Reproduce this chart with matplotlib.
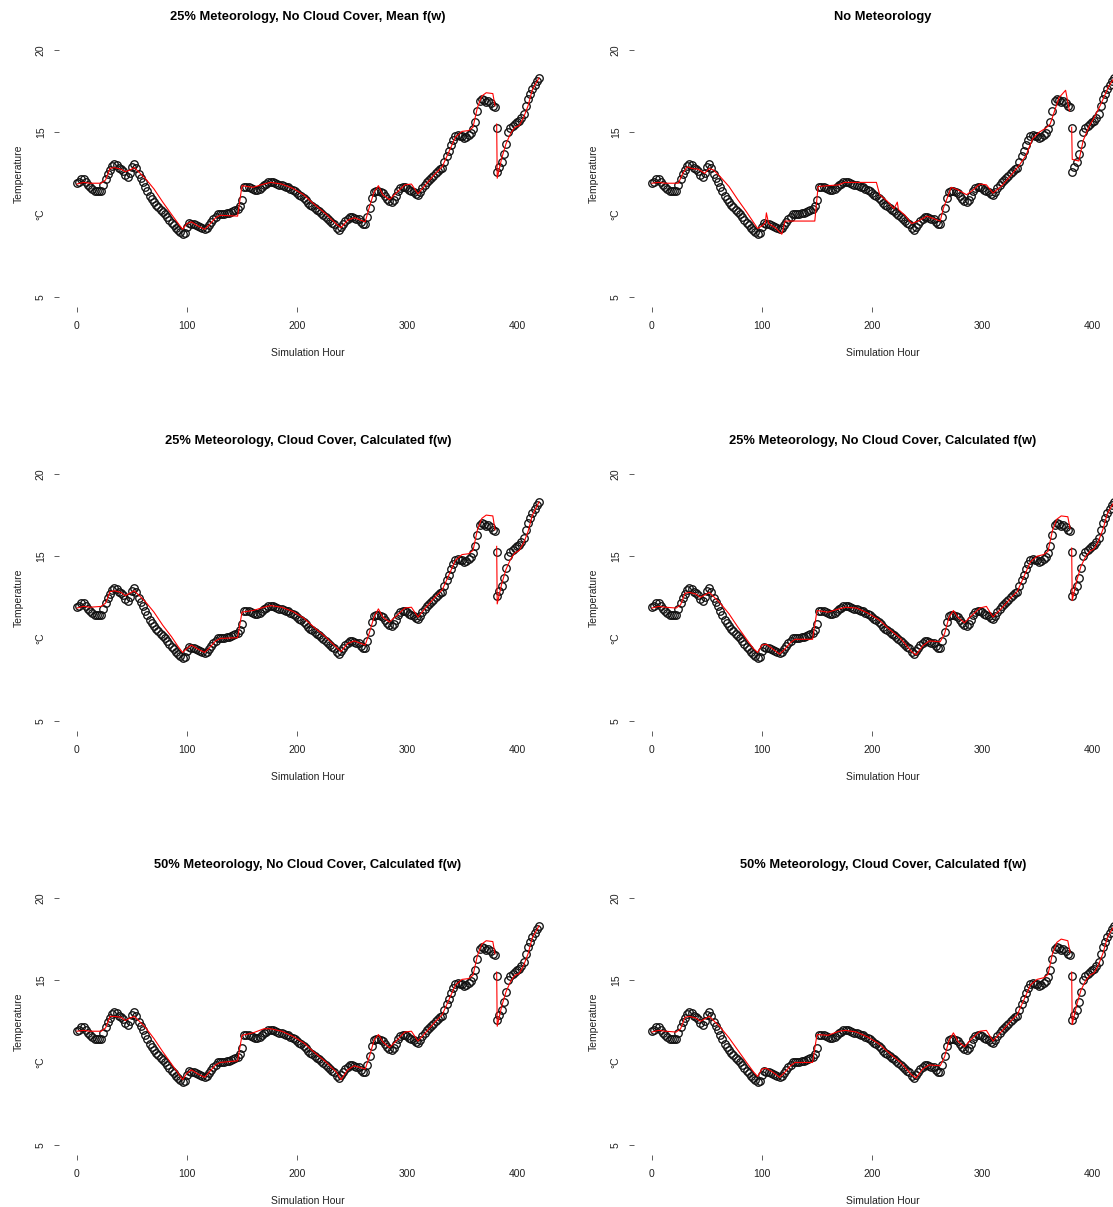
import matplotlib
matplotlib.use('Agg')
import matplotlib.pyplot as plt
import numpy as np

plt.rcParams['font.family'] = ['Liberation Sans', 'DejaVu Sans']

# ── observed temperature, every 2 simulation hours (0..420) ──────────────────
OBS_H = np.arange(0, 421, 2)
OBS_T = [
    11.9, 12.0, 12.15, 12.15, 11.95, 11.8, 11.7, 11.55, 11.45, 11.4,
    11.4, 11.45, 11.8, 12.15, 12.45, 12.7, 12.95, 13.05, 13.0, 12.85,
    12.75, 12.65, 12.4, 12.3, 12.55, 12.9, 13.05, 12.8, 12.45, 12.2,
    11.95, 11.7, 11.4, 11.15, 10.95, 10.75, 10.6, 10.45, 10.3, 10.15,
    10.0, 9.85, 9.65, 9.5, 9.35, 9.2, 9.05, 8.95, 8.82, 8.85,
    9.25, 9.5, 9.45, 9.4, 9.35, 9.3, 9.25, 9.15, 9.1, 9.15,
    9.35, 9.55, 9.7, 9.85, 10.0, 10.05, 10.05, 10.05, 10.1, 10.1,
    10.15, 10.2, 10.3, 10.35, 10.5, 10.9, 11.65, 11.7, 11.65, 11.6,
    11.55, 11.5, 11.5, 11.55, 11.7, 11.8, 11.85, 11.95, 12.0, 11.95,
    11.9, 11.85, 11.8, 11.8, 11.75, 11.7, 11.65, 11.55, 11.5, 11.4,
    11.3, 11.2, 11.1, 11.0, 10.85, 10.7, 10.6, 10.5, 10.4, 10.3,
    10.2, 10.1, 9.95, 9.85, 9.75, 9.6, 9.5, 9.4, 9.2, 9.05,
    9.25, 9.45, 9.6, 9.75, 9.85, 9.85, 9.8, 9.75, 9.7, 9.55,
    9.45, 9.4, 9.85, 10.4, 11.0, 11.35, 11.45, 11.4, 11.35, 11.3,
    11.1, 10.95, 10.8, 10.75, 10.9, 11.15, 11.4, 11.6, 11.7, 11.7,
    11.6, 11.5, 11.45, 11.35, 11.25, 11.2, 11.35, 11.6, 11.8, 11.95,
    12.1, 12.2, 12.35, 12.5, 12.65, 12.75, 12.85, 13.2, 13.55, 13.85,
    14.2, 14.5, 14.75, 14.85, 14.8, 14.75, 14.65, 14.7, 14.85, 14.95,
    15.2, 15.6, 16.3, 16.9, 17.0, 16.95, 16.85, 16.9, 16.75, 16.6,
    16.55, 12.6, 12.9, 13.2, 13.7, 14.3, 15.0, 15.25, 15.35, 15.5,
    15.6, 15.7, 15.85, 16.1, 16.6, 17.0, 17.3, 17.6, 17.9, 18.1,
    18.3,
]
OBS_EXTRA_H = [381.5]
OBS_EXTRA_T = [15.25]

# ── model runs (red lines) ────────────────────────────────────────────────────
nan = np.nan
MODEL_H = [0, 6, 12, 22, 26, 30, 34, 40, 44, 48,
           52, 56, 62, 70, 78, 86, 92, 96, 100, 104,
           110, 116, 120, 126, 130, 146, 150, 160, 170, 176,
           186, 196, 206, 216, 226, 236, 240, 246, 252, 262,
           266, 270, 274, 278, 284, 290, 298, 304, 310, 318,
           326, 332, 338, 344, 350, 356, 360, 364, 368, 372,
           378, 380, 381, 381.5, 382, 386, 390, 394, 398, 402,
           406, 410, 414, 420]

T_25_NOCC_MEAN = [11.85, 11.95, 11.9, 11.9, 12.1, 12.8, 12.85, 12.75, 12.6, 12.7,
                  12.85, 12.6, 12.2, 11.55, 10.75, 10.0, 9.45, 9.1, 9.45, 9.55,
                  9.3, 9.1, 9.35, 9.8, 9.95, 9.9, 11.75, 11.65, 11.85, 11.95,
                  11.85, 11.6, 11.2, 10.6, 10.05, 9.4, 9.2, 9.65, 9.8, 9.55,
                  10.5, 11.35, 11.75, 11.2, 10.9, 11.3, 11.8, 11.85, 11.25, 11.9,
                  12.5, 12.9, 13.8, 14.7, 15.05, 15.1, 15.3, 16.5, 17.2, 17.4,
                  17.35, 16.6, nan, 15.5, 12.2, 13.4, 14.3, 14.9, 15.3, 15.4,
                  15.9, 16.6, 17.6, 18.3]

T_25_CC_CALC = [11.85, 11.95, 11.9, 11.95, 12.15, 12.85, 12.9, 12.8, 12.6, 12.75,
                12.9, 12.65, 12.25, 11.6, 10.8, 10.1, 9.5, 9.15, 9.4, 9.6,
                9.35, 9.15, 9.4, 9.85, 10.0, 10.05, 11.6, 11.7, 11.9, 12.0,
                11.9, 11.65, 11.25, 10.65, 10.1, 9.45, 9.2, 9.7, 9.85, 9.6,
                10.4, 11.3, 11.8, 11.3, 11.0, 11.35, 11.85, 11.9, 11.3, 11.95,
                12.55, 12.95, 13.85, 14.75, 15.1, 15.15, 15.35, 16.6, 17.3, 17.5,
                17.45, 16.6, nan, 15.6, 12.1, 13.3, 14.2, 14.8, 15.2, 15.35,
                15.8, 16.5, 17.5, 18.3]

T_25_NOCC_CALC = [11.85, 11.95, 11.9, 11.85, 12.05, 12.75, 12.8, 12.7, 12.5, 12.65,
                  12.8, 12.55, 12.15, 11.5, 10.7, 9.95, 9.4, 9.15, 9.6, 9.65,
                  9.35, 9.05, 9.3, 9.75, 9.95, 9.95, 11.7, 11.6, 11.8, 11.9,
                  11.85, 11.55, 11.15, 10.55, 10.0, 9.2, 9.0, 9.55, 9.85, 9.8,
                  10.3, 11.3, 11.7, 11.3, 10.95, 11.35, 11.85, 11.95, 11.3, 11.85,
                  12.45, 12.85, 13.75, 14.65, 15.0, 15.1, 15.3, 16.55, 17.25, 17.45,
                  17.4, 16.7, nan, 15.5, 12.3, 13.5, 14.4, 14.95, 15.3, 15.45,
                  15.95, 16.65, 17.6, 18.3]

T_50_NOCC_CALC = [11.9, 11.95, 11.9, 11.9, 12.1, 12.8, 12.8, 12.75, 12.55, 12.7,
                  12.8, 12.55, 12.15, 11.45, 10.65, 9.9, 9.35, 8.95, 9.35, 9.55,
                  9.3, 9.1, 9.4, 9.85, 10.0, 10.1, 11.65, 11.8, 12.05, 12.05,
                  11.9, 11.6, 11.2, 10.6, 10.05, 9.4, 8.95, 9.55, 9.8, 9.6,
                  10.4, 11.35, 11.7, 11.25, 10.9, 11.3, 11.85, 11.9, 11.3, 11.9,
                  12.5, 12.9, 13.8, 14.7, 15.05, 15.1, 15.3, 16.5, 17.2, 17.4,
                  17.35, 16.6, nan, 15.5, 12.2, 13.4, 14.3, 14.9, 15.3, 15.4,
                  15.9, 16.6, 17.6, 18.3]

T_50_CC_CALC = [11.85, 11.95, 11.9, 11.85, 12.05, 12.75, 12.8, 12.7, 12.5, 12.65,
                12.8, 12.55, 12.15, 11.5, 10.75, 10.0, 9.45, 9.15, 9.6, 9.65,
                9.4, 9.1, 9.35, 9.8, 10.0, 10.0, 11.7, 11.65, 11.9, 11.95,
                11.85, 11.55, 11.15, 10.55, 10.0, 9.25, 9.05, 9.6, 9.85, 9.8,
                10.35, 11.35, 11.8, 11.3, 10.95, 11.4, 11.9, 11.95, 11.3, 11.9,
                12.5, 12.9, 13.8, 14.7, 15.05, 15.15, 15.35, 16.6, 17.3, 17.5,
                17.4, 16.7, nan, 15.5, 12.3, 13.5, 14.4, 14.95, 15.3, 15.45,
                15.95, 16.65, 17.6, 18.3]

NOMET_H = [0, 6, 12, 24, 28, 32, 36, 42, 48, 52,
           56, 62, 70, 78, 86, 92, 96, 100, 103, 104,
           106, 112, 118, 121, 148, 151, 160, 170, 175, 204,
           207, 214, 220, 223, 224, 230, 236, 242, 250, 262,
           265, 272, 278, 286, 292, 298, 304, 310, 318, 326,
           334, 340, 346, 352, 358, 362, 366, 370, 376, 379.5,
           380.5, 381.5, 382, 388, 392, 397, 402, 408, 414.5, 420]
NOMET_T = [11.9, 11.95, 11.9, 11.9, 12.5, 12.9, 12.8, 12.75, 12.5, 12.8,
           12.7, 12.3, 11.7, 10.9, 10.15, 9.55, 9.15, 9.3, 9.5, 10.1,
           9.45, 9.2, 8.8, 9.6, 9.6, 11.7, 11.75, 11.8, 11.95, 11.95,
           11.2, 10.8, 10.35, 10.75, 10.3, 9.95, 9.45, 9.6, 9.9, 9.6,
           10.4, 11.65, 11.5, 11.2, 11.5, 11.85, 11.8, 11.3, 11.75, 12.35,
           13.0, 13.6, 14.6, 15.0, 15.25, 15.5, 16.3, 17.1, 17.55, 16.3,
           nan, 15.3, 13.35, 13.25, 14.5, 15.3, 15.9, 16.7, 17.7, 18.3]

TITLES = ['25% Meteorology, No Cloud Cover, Mean f(w)',
          'No Meteorology',
          '25% Meteorology, Cloud Cover, Calculated f(w)',
          '25% Meteorology, No Cloud Cover, Calculated f(w)',
          '50% Meteorology, No Cloud Cover, Calculated f(w)',
          '50% Meteorology, Cloud Cover, Calculated f(w)']
MODELS = [(MODEL_H, T_25_NOCC_MEAN), (NOMET_H, NOMET_T),
          (MODEL_H, T_25_CC_CALC), (MODEL_H, T_25_NOCC_CALC),
          (MODEL_H, T_50_NOCC_CALC), (MODEL_H, T_50_CC_CALC)]

X_TICKS = [0, 100, 200, 300, 400]
Y_TICKS = [5, 10, 15, 20]
Y_LABELS = ['5', '°C', '15', '20']

# ── layout (pixel based, figure 1113 x 1207) ─────────────────────────────────
W, H = 1113, 1207
fig = plt.figure(figsize=(W / 100, H / 100), dpi=100)
fig.patch.set_facecolor('white')

col_left = [58.5, 633.5]
row_top = [40.1, 464.1, 888.1]
ax_w, ax_h = 499, 266.5

for i, (title, (mh, mt)) in enumerate(zip(TITLES, MODELS)):
    r, c = divmod(i, 2)
    ax = fig.add_axes([col_left[c] / W, 1 - (row_top[r] + ax_h) / H, ax_w / W, ax_h / H])
    ax.plot(OBS_H, OBS_T, 'o', ms=5.4, mfc='none', mec='#111111', mew=0.95, zorder=2)
    ax.plot(OBS_EXTRA_H, OBS_EXTRA_T, 'o', ms=5.4, mfc='none', mec='#111111', mew=0.95, zorder=2)
    ax.plot(mh, mt, color='red', lw=0.8, zorder=3)

    ax.set_xlim(-16.8, 436.8)
    ax.set_ylim(4.4, 20.6)
    for s in ax.spines.values():
        s.set_visible(False)

    ax.set_xticks(X_TICKS)
    ax.set_xticklabels([str(t) for t in X_TICKS])
    ax.set_yticks(Y_TICKS)
    ax.set_yticklabels(Y_LABELS, rotation=90, va='center')
    ax.tick_params(axis='both', length=3.6, width=0.6, color='#444444',
                   labelsize=7.5, labelcolor='#222222')
    ax.tick_params(axis='x', pad=7)
    ax.tick_params(axis='y', pad=5.5)
    # ticks missing in the reference
    for k in (3, 4):
        ax.xaxis.get_major_ticks()[k].tick1line.set_visible(False)
    ax.yaxis.get_major_ticks()[1].tick1line.set_visible(False)

    ax.set_title(title, fontsize=9.3, fontweight='bold', pad=14.5)
    ax.set_xlabel('Simulation Hour', fontsize=7.5, color='#222222', labelpad=12)
    ax.set_ylabel('Temperature', fontsize=7.5, color='#222222', labelpad=9)

plt.savefig('out.png', dpi=100, facecolor='white')
plt.close()
